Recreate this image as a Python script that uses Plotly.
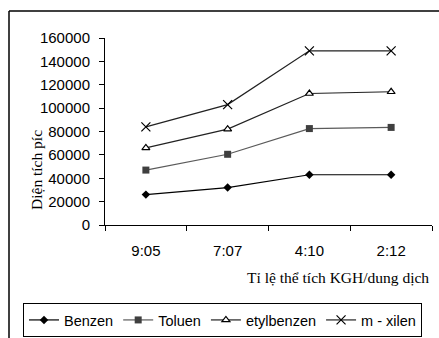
import plotly.graph_objects as go

categories = ["9:05", "7:07", "4:10", "2:12"]
benzen = [26000, 32000, 43000, 43000]
toluen = [47000, 60500, 82500, 83500]
etylbenzen = [66000, 82000, 112500, 114000]
m_xilen = [84000, 103000, 149000, 149000]

W, H = 439, 338
L, R, T, B = 105, 432, 38, 225
pw, ph = R - L, B - T

def px(x):
    return (x - L) / pw

def py(y):
    return (B - y) / ph

fig = go.Figure()
fig.add_trace(go.Scatter(x=categories, y=benzen, name="Benzen", mode="lines+markers",
                         line=dict(color="black", width=1.2),
                         marker=dict(symbol="diamond", size=6.5, color="black")))
fig.add_trace(go.Scatter(x=categories, y=toluen, name="Toluen", mode="lines+markers",
                         line=dict(color="#5a5a5a", width=1.2),
                         marker=dict(symbol="square", size=7, color="#3f3f3f")))
fig.add_trace(go.Scatter(x=categories, y=etylbenzen, name="etylbenzen", mode="lines+markers",
                         line=dict(color="#222222", width=1.2),
                         marker=dict(symbol="triangle-up", size=7, color="white",
                                     line=dict(color="black", width=1.2))))
fig.add_trace(go.Scatter(x=categories, y=m_xilen, name="m - xilen", mode="lines+markers",
                         line=dict(color="#222222", width=1.2),
                         marker=dict(symbol="x-thin", size=9, color="black",
                                     line=dict(color="black", width=1.2))))

tickfont = dict(family="Liberation Sans, Arial", size=15, color="black")
legendfont = dict(family="Liberation Sans, Arial", size=14.5, color="black")
titlefont = dict(family="Liberation Serif, Times New Roman", size=15.5, color="black")

fig.update_layout(
    width=W, height=H,
    margin=dict(l=L, r=W - R, t=T, b=H - B, pad=0, autoexpand=False),
    paper_bgcolor="white", plot_bgcolor="white",
    showlegend=True,
    legend=dict(orientation="h", x=px(23), y=py(303), xanchor="left", yanchor="top",
                bordercolor="black", borderwidth=1, font=legendfont,
                bgcolor="white", itemwidth=30, tracegroupgap=0),
    xaxis=dict(type="category", range=[-0.5, 3.5], showline=True, linecolor="black",
               linewidth=1, ticks="outside", ticklen=5, tickcolor="black",
               tickson="boundaries", showgrid=False, zeroline=False, tickfont=tickfont,
               ticklabelstandoff=12, fixedrange=True, automargin=False),
    yaxis=dict(range=[0, 160000], dtick=20000, showline=True, linecolor="black",
               linewidth=1, ticks="outside", ticklen=5, tickcolor="black",
               showgrid=False, zeroline=False, tickfont=tickfont, tickformat="d",
               ticklabelstandoff=6, fixedrange=True, automargin=False),
    shapes=[
        dict(type="line", xref="paper", yref="paper", x0=px(9), x1=px(445),
             y0=py(11), y1=py(11), line=dict(color="black", width=1.5)),
        dict(type="line", xref="paper", yref="paper", x0=px(9), x1=px(9),
             y0=py(11), y1=py(345), line=dict(color="black", width=1.5)),
    ],
    annotations=[
        dict(text="Diện tích píc", xref="paper", yref="paper", x=px(36), y=py(170),
             textangle=-90, showarrow=False, font=titlefont,
             xanchor="center", yanchor="middle"),
        dict(text="Tỉ lệ thể tích KGH/dung dịch", xref="paper", yref="paper",
             x=px(431), y=py(277), showarrow=False, font=titlefont,
             xanchor="right", yanchor="middle"),
    ],
)

fig.write_html("out.html", config=dict(displayModeBar=False))
